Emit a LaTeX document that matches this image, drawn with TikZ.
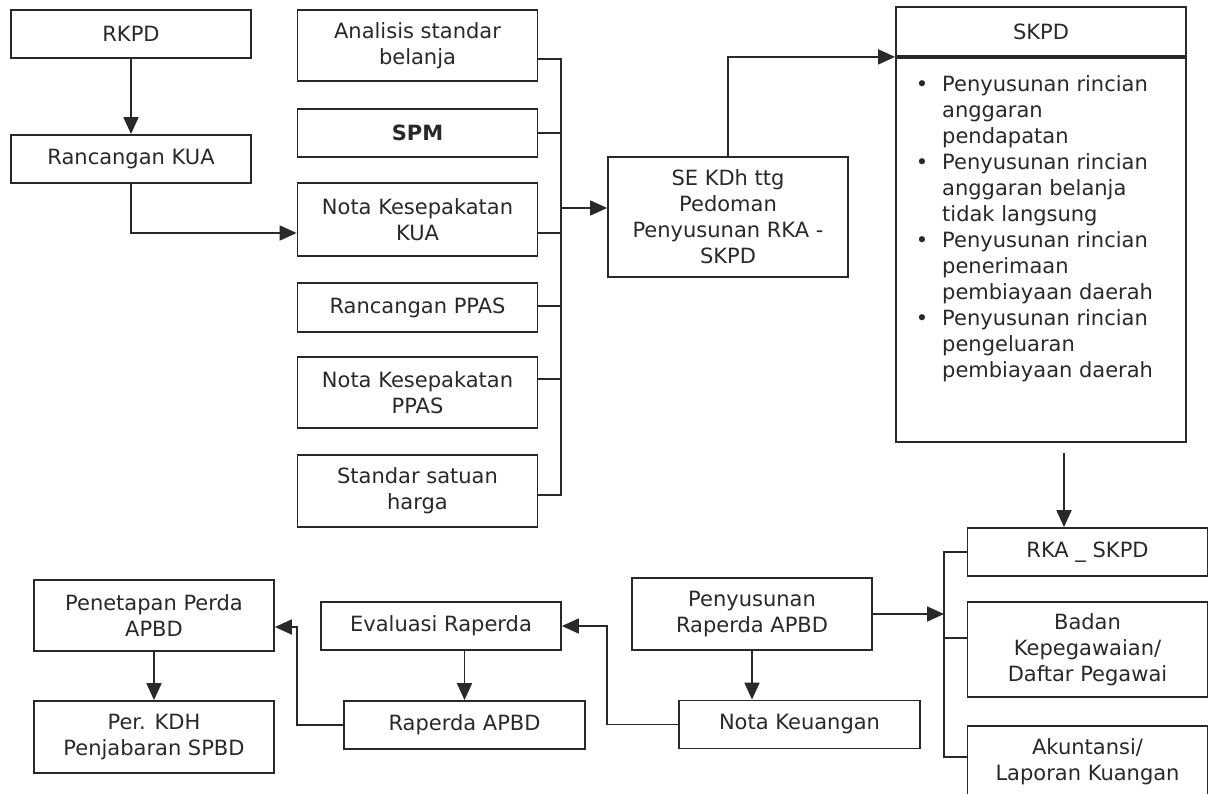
\documentclass[tikz,border=0pt]{standalone}
\usepackage{fontspec}
\setmainfont{DejaVu Sans}
\usepackage{tikz}
\usetikzlibrary{arrows.meta}
\usetikzlibrary{positioning}
\definecolor{ink}{rgb}{0.16, 0.16, 0.16}
\tikzset{box/.style = {draw=ink, line width=1.8pt, text=ink, align=center, inner sep=0pt,
                       minimum width=240pt, font=\fontsize{21}{26}\selectfont}}
\tikzset{short/.style = {minimum height=48pt}}
\tikzset{tall/.style = {minimum height=72pt}}
\tikzset{link/.style = {draw=ink, line width=1.8pt}}
\tikzset{arr/.style = {link, -{Triangle[length=17pt, width=15pt]}}}
\tikzset{listtext/.style = {text=ink, inner sep=0pt, align=left, font=\fontsize{21}{26}\selectfont}}

\begin{document}
\begin{tikzpicture}[x=1pt, y=-1pt]
        \useasboundingbox (0, 0) rectangle (1208, 793);
        \clip (0, 0) rectangle (1208, 793);
        \fill [white] (0, 0) rectangle (1208, 793);

        % left column
        \node [box, short] (rkpd) at (131, 34) {RKPD};
        \node [box, short] (rkua) at (131, 159) {Rancangan KUA};

        % inputs
        \node [box, tall, minimum height=71pt] (asb) at (417.5, 45.5) {Analisis standar\\belanja};
        \node [box, short] (spm) at (417.5, 133) {\textbf{SPM}};
        \node [box, tall, minimum height=73pt] (nkua) at (417.5, 219.5) {Nota Kesepakatan\\KUA};
        \node [box, short, minimum height=49pt] (rppas) at (417.5, 307.5) {Rancangan PPAS};
        \node [box, tall, minimum height=71pt] (nppas) at (417.5, 392.5) {Nota Kesepakatan\\PPAS};
        \node [box, tall] (ssh) at (417.5, 491) {Standar satuan\\harga};

        \node [box, minimum height=120pt] (se) at (728, 217) {SE KDh ttg\\Pedoman\\Penyusunan RKA -\\SKPD};

        % SKPD
        \node [box, minimum width=290pt, minimum height=49pt] (skpd) at (1041, 31.5) {SKPD};
        \node [box, minimum width=290pt, minimum height=386pt] (skpdbody) at (1041, 249) {};
        \draw [ink, line width=4.5pt] (skpd.south west) -- (skpd.south east);
        \foreach \i/\txt in {0/{Penyusunan rincian\\anggaran\\pendapatan},
                             1/{Penyusunan rincian\\anggaran belanja\\tidak langsung},
                             2/{Penyusunan rincian\\penerimaan\\pembiayaan daerah},
                             3/{Penyusunan rincian\\pengeluaran\\pembiayaan daerah}} {
          \node [listtext, anchor=base] (bul\i) at (922, 91 + 78*\i) {•};
          \node [listtext, anchor=north west] (item\i) at (942, 75 + 78*\i) {\txt};
        }

        % right column
        \node [box, short] (rka) at (1087.5, 552) {RKA \_ SKPD};
        \node [box, minimum height=95pt] (badan) at (1087.5, 649.5) {Badan\\Kepegawaian/\\Daftar Pegawai};
        \node [box, tall] (akun) at (1087.5, 762) {Akuntansi/\\Laporan Kuangan};

        % bottom row
        \node [box, tall] (peny) at (752, 614) {Penyusunan\\Raperda APBD};
        \node [box, short, minimum width=241pt] (nk) at (799.5, 724.5) {Nota Keuangan};
        \node [box, short] (eval) at (441, 626) {Evaluasi Raperda};
        \node [box, short, minimum width=241pt] (rap) at (464.5, 725) {Raperda APBD};
        \node [box, tall, minimum height=71pt] (pen) at (154, 615.5) {Penetapan Perda\\APBD};
        \node [box, tall] (per) at (154, 737) {Per. KDH\\Penjabaran SPBD};

        % connectors
        \draw [arr] (rkpd.south) -- (rkua.north);
        \coordinate (nkuain) at ([yshift=-13.5pt]nkua.west);
        \draw [arr] (rkua.south) |- (nkuain);

        \coordinate (jtop) at (561, 59);
        \coordinate (jbot) at (561, 495);
        \draw [link] (jtop) -- (jbot);
        \foreach \n/\s in {asb/-13.5, spm/0, nkua/-13.5, rppas/1.5, nppas/13.5, ssh/-4}
          \draw [link] ([yshift=\s pt]\n.east) -- ++(24, 0);
        \coordinate (sein) at ([yshift=9pt]se.west);
        \draw [arr] (jtop |- sein) -- (sein);
        \draw [arr] (se.north) |- (skpd.south west);

        \coordinate (skpdout) at (1064, 453);
        \draw [arr] (skpdout) -- (skpdout |- rka.north);

        \coordinate (ktop) at (944, 553);
        \coordinate (kbot) at (944, 757);
        \draw [link] (ktop) -- (kbot);
        \foreach \n/\s in {rka/0, badan/11.5, akun/5}
          \draw [link] ([yshift=\s pt]\n.west) -- ++(-24, 0);
        \draw [arr] (peny.east) -- (peny.east -| ktop);

        \draw [arr] (peny.south) -- (peny.south |- nk.north);
        \draw [arr] (nk.west) -- ++(-71, 0) |- (eval.east);
        \draw [arr] (rap.north |- eval.south) -- (rap.north);
        \coordinate (penin) at ([yshift=-11.5pt]pen.east);
        \draw [arr] (rap.west) -- ++(-46, 0) |- (penin);
        \draw [arr] (pen.south) -- (per.north);
      \end{tikzpicture}
\end{document}
